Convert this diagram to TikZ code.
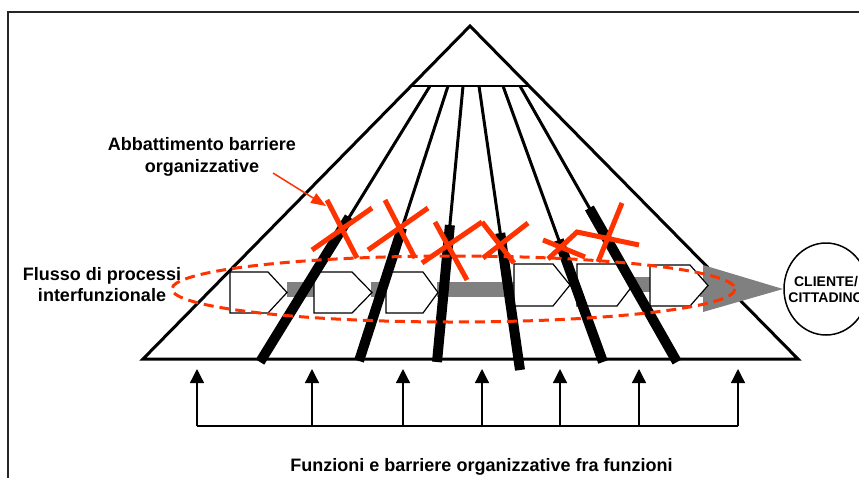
\documentclass[tikz,border=0pt]{standalone}
\usepackage{fontspec}
\setmainfont{Liberation Sans}
\usetikzlibrary{arrows.meta,calc,shapes.geometric}
\definecolor{xred}{RGB}{255,51,0}
\definecolor{flowgray}{RGB}{128,128,128}
\begin{document}
\begin{tikzpicture}[x=1pt,y=-1pt,
  outline/.style={draw=black,line width=3pt,line join=miter},
  thinfun/.style={draw=black,line width=3pt},
  thickfun/.style={draw=black,line width=10pt},
  procbox/.style={draw=black,line width=1.2pt,fill=white,line join=miter},
  graybar/.style={fill=flowgray,draw=none},
  xstroke/.style={draw=xred,line width=5pt},
  flowring/.style={draw=xred,line width=3pt,dash pattern=on 10pt off 6pt},
  biglabel/.style={font=\fontsize{18}{21.5}\selectfont\bfseries,align=center,inner sep=0pt},
  uparrow/.style={draw=black,line width=1.3pt,-{Triangle[length=14pt,width=14pt]}}
]
\useasboundingbox (0,0) rectangle (859,477);
\fill[white] (0,0) rectangle (859,477);

% frame
\draw[line width=2pt,black!85] (8,520) -- (8,12) -- (900,12);

% pyramid
\coordinate (apex) at (470,26);
\coordinate (bl) at (143,359);
\coordinate (br) at (798,359);
\draw[outline] (apex) -- (bl) -- (br) -- cycle;
\coordinate (il) at ($(apex)!0.18018!(bl)$);
\coordinate (ir) at ($(apex)!0.18018!(br)$);
\draw[line width=2.5pt] (il) -- (ir);

% gray flow
\fill[graybar] (287,282) rectangle (316,297);
\fill[graybar] (371,282) rectangle (387,297);
\fill[graybar] (437,282) rectangle (515,297);
\fill[graybar] (632,277) rectangle (651,292);
\fill[graybar] (700,282) rectangle (720,297);
\fill[graybar] (703,265) -- (783,289) -- (703,312) -- cycle;

% process boxes
\foreach \xa/\xs/\xb/\ya/\yb in {230/268/287/272/313, 314/352/372/272/313, 386/423/438/272/313,
                                  514/553/570/264/306, 577/617/633/264/306, 650/690/708/265/306}{
  \draw[procbox] (\xa,\ya) -- (\xs,\ya) -- (\xb,{(\ya+\yb)/2}) -- (\xs,\yb) -- (\xa,\yb) -- cycle;
}

% functions (lines from the top)
\foreach \i/\sx/\ex/\ey/\f in {1/430/260/362/0.475, 2/448/359/361/0.516, 3/463/437/362/0.504,
                               4/479/520/370/0.518, 5/503/603/362/0.558, 6/520/677/362/0.442}{
  \coordinate (s\i) at (\sx,86);
  \coordinate (e\i) at (\ex,\ey);
  \coordinate (m\i) at ($(s\i)!\f!(e\i)$);
  \draw[thinfun] (s\i) -- ($(s\i)!\f+0.02!(e\i)$);
  \draw[thickfun] (m\i) -- (e\i);
}

% dashed ring
\draw[flowring] (453.5,289) ellipse [x radius=281.5, y radius=33];

% red crosses
\draw[xstroke] (327,200) -- (357,258);
\draw[xstroke] (312,250) -- (372,208);
\draw[xstroke] (385,200) -- (415,258);
\draw[xstroke] (368,250) -- (428,208);
\draw[xstroke] (435,222) -- (467,280);
\draw[xstroke] (422,263) -- (482,222);
\draw[xstroke] (482,222) -- (514,263);
\draw[xstroke] (483,258) -- (528,223);
\draw[xstroke] (543,240) -- (585,257);
\draw[xstroke,line join=miter] (548,259) -- (577,232) -- (639,245);
\draw[xstroke] (622,203) -- (598,262);

% labels
\node[biglabel] (lblbar) at (202,157) {Abbattimento barriere\\organizzative};
\coordinate (arrfrom) at (273,173);
\coordinate (arrto) at (326,206);
\draw[draw=xred,line width=1.5pt,-{Triangle[length=15pt,width=11pt]}] (arrfrom) -- (arrto);

\node[biglabel] (lblflow) at (102,284.5) {Flusso di processi\\interfunzionale};

% client
\node[draw=black,line width=1.5pt,ellipse,minimum width=84pt,minimum height=92pt,inner sep=0pt] (client) at (826,289) {};
\node[font=\fontsize{14}{16}\selectfont\bfseries,align=center,inner sep=0pt] (clienttxt) at (client.center) {CLIENTE/\\CITTADINO};

% bottom arrows
\foreach \i/\x in {1/197,2/312,3/403,4/482,5/560,6/639,7/738}{
  \coordinate (b\i) at (\x,426);
  \coordinate (t\i) at (\x,369);
  \draw[uparrow] (b\i) -- (t\i);
}
\draw[line width=1.3pt] (b1) -- (b7);

\node[biglabel,anchor=base] (lblfun) at (481.5,471.7) {Funzioni e barriere organizzative fra funzioni};
\end{tikzpicture}
\end{document}
